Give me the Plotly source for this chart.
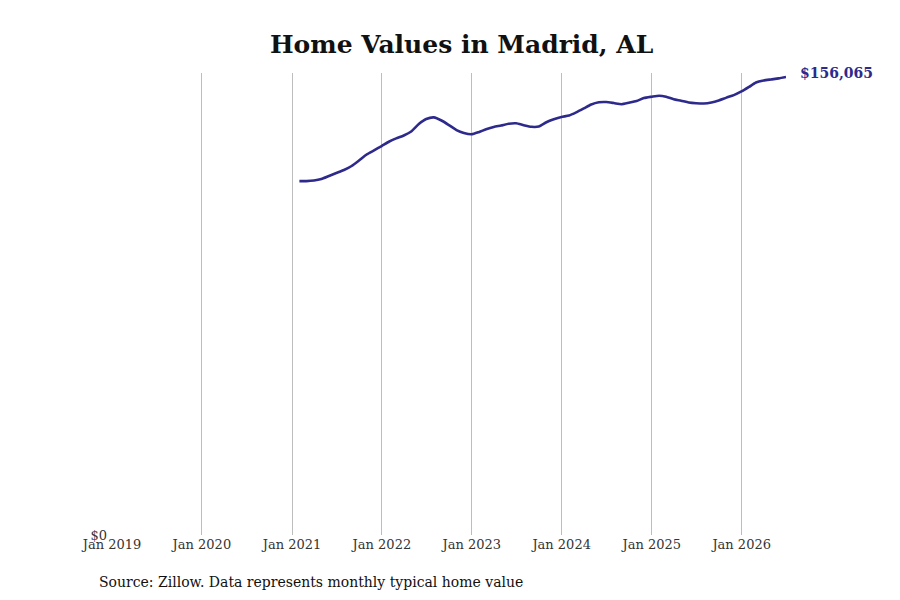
import pandas as pd
import plotly.graph_objects as go

# Monthly typical home value, Jan 2021 - Jun 2026 (month-end dates)
months = pd.date_range('2021-01-31', periods=66, freq='ME')
home_values = [
    120600, 120600, 120800, 121300, 122350, 123350, 124400, 125750, 127600, 129650,
    131050, 132550, 134100, 135150, 136150, 137500, 140050, 141750, 142300, 141250,
    139700, 138000, 137000, 136550, 137350, 138250, 139050, 139550, 140150, 140300,
    139650, 139100, 139200, 140650, 141650, 142450, 142950, 144000, 145350, 146700,
    147450, 147550, 147200, 146800, 147300, 147900, 148900, 149350, 149700, 149350,
    148500, 148000, 147400, 147150, 147050, 147400, 148100, 149050, 149900, 151150,
    152700, 154200, 154900, 155250, 155600, 156065,
]
tick_dates = pd.date_range('2019-01-01', '2026-01-01', freq='YS')
tick_labels = [d.strftime('Jan %Y') for d in tick_dates]

line_color = '#2e2a8c'
serif = 'DejaVu Serif'

fig = go.Figure()
fig.add_trace(go.Scatter(
    x=months, y=home_values, mode='lines',
    line=dict(color=line_color, width=2.6, shape='spline', smoothing=0.6),
    hoverinfo='skip', showlegend=False,
))

# end-of-line value label
fig.add_annotation(
    x=months[-1], y=home_values[-1], text=f'<b>${home_values[-1]:,}</b>',
    showarrow=False, xanchor='left', yanchor='middle', xshift=12, yshift=4,
    font=dict(family=serif, size=14, color=line_color),
)

# source note
fig.add_annotation(
    xref='paper', yref='paper', x=-0.0225, y=-0.081, xanchor='left', yanchor='top',
    text='Source: Zillow. Data represents monthly typical home value',
    showarrow=False, font=dict(family=serif, size=14, color='#111111'),
)

fig.update_layout(
    width=900, height=600,
    title=dict(text='<b>Home Values in Madrid, AL</b>', x=0.504, xanchor='center',
               y=0.94, yanchor='middle', font=dict(family=serif, size=25, color='#111111')),
    xaxis=dict(
        range=[tick_dates[0], months[-1]],
        tickvals=tick_dates, ticktext=tick_labels,
        tickfont=dict(family=serif, size=13, color='#333333'),
        showgrid=True, gridcolor='#bdbdbd', gridwidth=1,
        showline=False, zeroline=False, ticks='', ticklabelstandoff=0,
    ),
    yaxis=dict(
        range=[0, home_values[-1] * 1.0088],
        tickvals=[0], ticktext=['$0'],
        tickfont=dict(family=serif, size=13, color='#333333'),
        showgrid=False, zeroline=False, showline=False, ticks='', ticklabelstandoff=4,
    ),
    plot_bgcolor='white', paper_bgcolor='white',
    margin=dict(l=104, r=122, t=65, b=73),
)

fig.write_html('out.html')
